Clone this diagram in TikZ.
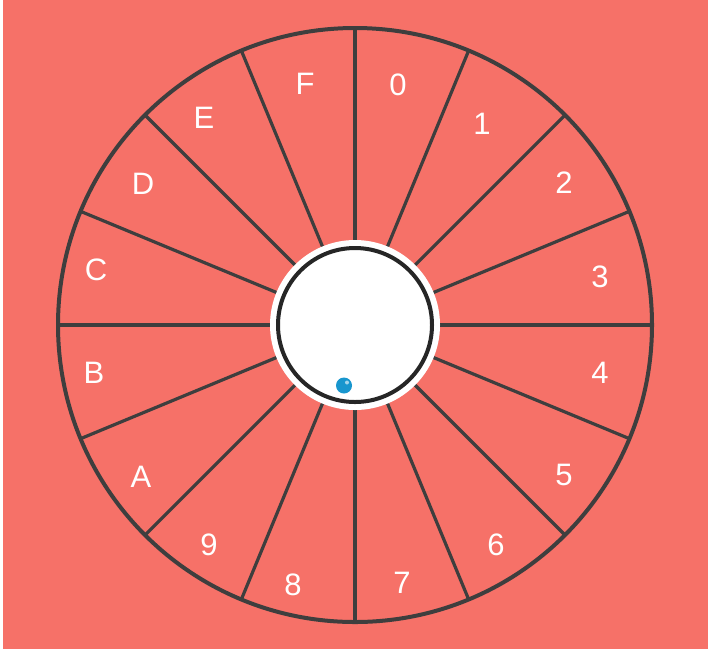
\documentclass[tikz,border=0pt]{standalone}
\usepackage{fontspec}
\setmainfont{Liberation Sans}
\definecolor{bgsalmon}{RGB}{246,113,104}
\definecolor{rimgray}{RGB}{62,62,62}
\definecolor{balblue}{RGB}{24,150,206}
\tikzset{
  rim/.style={draw=rimgray, line width=4pt},
  spoke/.style={draw=rimgray, line width=3.2pt},
  lbl/.style={text=white, font=\fontsize{31}{31}\selectfont, inner sep=0pt, anchor=center},
}
\begin{document}
\begin{tikzpicture}[x=1pt,y=-1pt]
  \fill[bgsalmon] (0,0) rectangle (708,649);
  \fill[white] (0,0) rectangle (3,649);
  \useasboundingbox (0,0) rectangle (708,649);
  \coordinate (c) at (355,325);
  % spokes
  \foreach \a in {0,22.5,...,337.5}{
    \draw[spoke] (c) -- ++(\a:-297);
  }
  \draw[rim] (c) circle (297);
  % hub
  \fill[white] (c) circle (85);
  \draw[draw=black!85, line width=4pt] (c) circle (77);
  % ball
  \fill[balblue] (344,385.5) circle (8);
  \fill[white, opacity=0.6] (347,382.5) circle (2);
  % labels
  \node[lbl] (l0) at (398,85) {0};
  \node[lbl] (l1) at (482,124) {1};
  \node[lbl] (l2) at (564,183) {2};
  \node[lbl] (l3) at (600,277) {3};
  \node[lbl] (l4) at (600,373) {4};
  \node[lbl] (l5) at (564,475) {5};
  \node[lbl] (l6) at (496,545) {6};
  \node[lbl] (l7) at (402,583) {7};
  \node[lbl] (l8) at (293,585) {8};
  \node[lbl] (l9) at (209,545) {9};
  \node[lbl] (lA) at (141,477) {A};
  \node[lbl] (lB) at (94,373) {B};
  \node[lbl] (lC) at (96,270) {C};
  \node[lbl] (lD) at (143,184) {D};
  \node[lbl] (lE) at (204,118) {E};
  \node[lbl] (lF) at (305,84) {F};
\end{tikzpicture}
\end{document}
